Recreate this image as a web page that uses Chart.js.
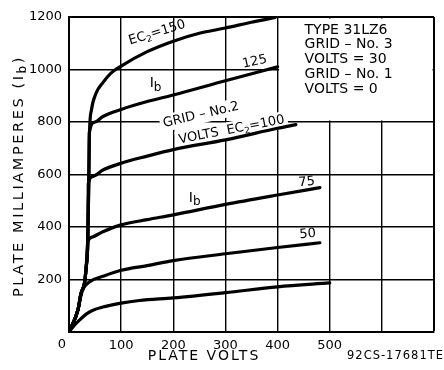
<!DOCTYPE html>
<html><head><meta charset="utf-8">
<script src="https://cdn.jsdelivr.net/npm/chart.js@4/dist/chart.umd.min.js"></script>
<style>html,body{margin:0;padding:0;background:#fff}#wrap{width:444px;height:370px;position:relative;overflow:hidden}</style>
</head><body><div id="wrap"><canvas id="c" width="444" height="370"></canvas></div>
<script>
// ---- data ----
const xTickLabels = ['0','100','200','300','400','500'];
const yTickLabels = ['200','400','600','800','1000','1200'];
const seriesNames = ['EC2=150','EC2=125','EC2=100','EC2=75','EC2=50','EC2=25'];

const volts150 = [0,17,23,30,33,36,38,39,43,52,65,80,100,150,200,250,300,350,395];
const ma150    = [0,83,146,190,248,343,579,740,846,910,950,985,1013,1068,1108,1138,1158,1180,1198];

const volts125 = [0,17,23,30,33,36,38,39,50,65,100,150,200,300,400];
const ma125    = [0,83,146,190,248,343,579,760,800,821,848,878,903,957,1010];

const volts100 = [0,17,23,30,33,36,37,45,65,100,150,200,300,400,435];
const ma100    = [0,83,146,190,248,343,565,592,617,643,670,695,732,776,790];

const volts75 = [0,17,23,30,33,36,45,65,100,150,200,300,400,481];
const ma75    = [0,83,146,190,248,343,362,382,408,428,446,486,522,550];

const volts50 = [0,17,23,28,40,65,100,150,200,300,400,481];
const ma50    = [0,83,140,168,192,212,235,253,272,298,322,340];

const volts25 = [0,10,20,33,45,65,100,135,200,300,400,500];
const ma25    = [0,25,45,68,82,95,110,120,130,150,172,187];

const infoBoxVolts = [400,700];
const infoBoxMa = [800,1200];
const infoLines = ['TYPE 31LZ6','GRID – No. 3','VOLTS = 30','GRID – No. 1','VOLTS = 0'];

// ---- annotation layout ----
const FONT = '"DejaVu Sans", sans-serif';
const curveLabels = [
  {parts:[['EC'],['2',1],['=150']], v:169, ma:1140, rot:-17, size:13},
  {parts:[['I'],['b',1]], v:166, ma:947, rot:0, size:14, sub:0.85},
  {parts:[['125']], v:356, ma:1029, rot:-12, size:13},
  {parts:[['GRID – No.2']], v:253, ma:827, rot:-13, size:13, mask:true},
  {parts:[['VOLTS  EC'],['2',1],['=100']], v:312, ma:770, rot:-11, size:13, mask:true},
  {parts:[['I'],['b',1]], v:241, ma:510, rot:0, size:14, sub:0.85},
  {parts:[['75']], v:456, ma:571, rot:-5, size:13},
  {parts:[['50']], v:458, ma:373, rot:-5, size:13}
];

function pts(xs, ys){ return xs.map((x,i)=>({x:x, y:ys[i]})); }

function measureParts(ctx, parts, size, sub){
  let w = 0;
  for (const p of parts){
    ctx.font = (p[1] ? Math.round(size*(sub||0.72)) : size) + 'px ' + FONT;
    w += ctx.measureText(p[0]).width;
  }
  return w;
}
function drawParts(ctx, parts, cx, cy, rotDeg, size, sub, spacing){
  ctx.save();
  ctx.translate(cx, cy);
  ctx.rotate(rotDeg*Math.PI/180);
  ctx.letterSpacing = (spacing||0) + 'px';
  const w = measureParts(ctx, parts, size, sub);
  ctx.fillStyle = '#000';
  ctx.textBaseline = 'middle';
  ctx.textAlign = 'left';
  let x = -w/2;
  for (const p of parts){
    const s = p[1] ? Math.round(size*(sub||0.72)) : size;
    ctx.font = s + 'px ' + FONT;
    ctx.fillText(p[0], x, p[1] ? size*0.3 : 0);
    x += ctx.measureText(p[0]).width;
  }
  ctx.restore();
}

const annot = {
  id:'annot',
  beforeDatasetsDraw(chart){
    const {ctx, scales:{x, y}} = chart;
    const l = x.getPixelForValue(infoBoxVolts[0]), r = x.getPixelForValue(infoBoxVolts[1]);
    const t = y.getPixelForValue(infoBoxMa[1]), b = y.getPixelForValue(infoBoxMa[0]);
    ctx.save();
    ctx.fillStyle = '#fff';
    ctx.fillRect(l+1.5, t+1.5, r-l-3, b-t-3);
    ctx.restore();
    for (const c of curveLabels){
      if (!c.mask) continue;
      ctx.save();
      ctx.translate(x.getPixelForValue(c.v), y.getPixelForValue(c.ma));
      ctx.rotate(c.rot*Math.PI/180);
      const w = measureParts(ctx, c.parts, c.size, c.sub);
      ctx.fillStyle = '#fff';
      ctx.fillRect(-w/2-3, -c.size*0.65, w+6, c.size*1.3);
      ctx.restore();
    }
  },
  afterDatasetsDraw(chart){
    const {ctx, scales:{x, y}} = chart;
    for (const c of curveLabels){
      drawParts(ctx, c.parts, x.getPixelForValue(c.v), y.getPixelForValue(c.ma), c.rot, c.size, c.sub, 0);
    }
    // info box text
    const l = x.getPixelForValue(infoBoxVolts[0]);
    const t = y.getPixelForValue(infoBoxMa[1]);
    ctx.save();
    ctx.fillStyle = '#000';
    ctx.font = '14px ' + FONT;
    ctx.textBaseline = 'middle';
    ctx.textAlign = 'left';
    infoLines.forEach((s, i)=>{ ctx.fillText(s, l + 27, t + 13 + i*14.8); });
    ctx.restore();
    // zero label at origin
    ctx.save();
    ctx.fillStyle = '#000';
    ctx.font = '13px ' + FONT;
    ctx.textAlign = 'center';
    ctx.textBaseline = 'middle';
    ctx.fillText(xTickLabels[0], x.getPixelForValue(0) - 7, y.getPixelForValue(0) + 13);
    ctx.restore();
    // axis titles
    const area = chart.chartArea;
    ctx.save();
    ctx.fillStyle = '#000';
    ctx.font = '14px ' + FONT;
    ctx.letterSpacing = '2px';
    ctx.textAlign = 'center';
    ctx.textBaseline = 'middle';
    ctx.fillText('PLATE VOLTS', 204, area.bottom + 24);
    ctx.restore();
    drawParts(ctx, [['PLATE MILLIAMPERES (I'],['b',1],[')']], 19, 176, -90, 14.5, 0.8, 2.6);
    ctx.save();
    ctx.fillStyle = '#000';
    ctx.font = '11.5px ' + FONT;
    ctx.letterSpacing = '1px';
    ctx.textAlign = 'left';
    ctx.textBaseline = 'middle';
    ctx.fillText('92CS-17681TE', 347, area.bottom + 24);
    ctx.restore();
  }
};

const ds = (name, xs, ys) => ({
  label: name, data: pts(xs, ys), borderColor:'#000', borderWidth:3.2,
  pointRadius:0, fill:false, cubicInterpolationMode:'monotone', borderCapStyle:'round'
});

new Chart(document.getElementById('c'), {
  type:'line',
  data:{ datasets:[
    ds(seriesNames[0], volts150, ma150),
    ds(seriesNames[1], volts125, ma125),
    ds(seriesNames[2], volts100, ma100),
    ds(seriesNames[3], volts75, ma75),
    ds(seriesNames[4], volts50, ma50),
    ds(seriesNames[5], volts25, ma25)
  ]},
  options:{
    responsive:false, animation:false, devicePixelRatio:1,
    layout:{padding:{top:17, right:10, left:0, bottom:0}},
    plugins:{legend:{display:false}, tooltip:{enabled:false}},
    scales:{
      x:{
        type:'linear', min:0, max:700,
        ticks:{stepSize:100, autoSkip:false, maxRotation:0, padding:6, color:'#000',
          font:{family:FONT, size:13},
          callback:(v)=>{ const i = xTickLabels.indexOf(String(v)); return (i>0) ? xTickLabels[i] : ''; }},
        grid:{color:'#000', lineWidth:(c)=> (c.tick && c.tick.value===700) ? 2 : 1.4, drawTicks:false},
        border:{display:true, color:'#000', width:2},
        afterFit:(s)=>{ s.height = 38; }
      },
      y:{
        min:0, max:1200,
        ticks:{stepSize:200, padding:7, color:'#000', font:{family:FONT, size:13},
          callback:(v)=>{ const i = yTickLabels.indexOf(String(v)); return i>=0 ? yTickLabels[i] : ''; }},
        grid:{color:'#000', lineWidth:(c)=> (c.tick && c.tick.value===1200) ? 2 : 1.4, drawTicks:false},
        border:{display:true, color:'#000', width:2},
        afterFit:(s)=>{ s.width = 69; }
      }
    }
  },
  plugins:[annot]
});
</script></body></html>
